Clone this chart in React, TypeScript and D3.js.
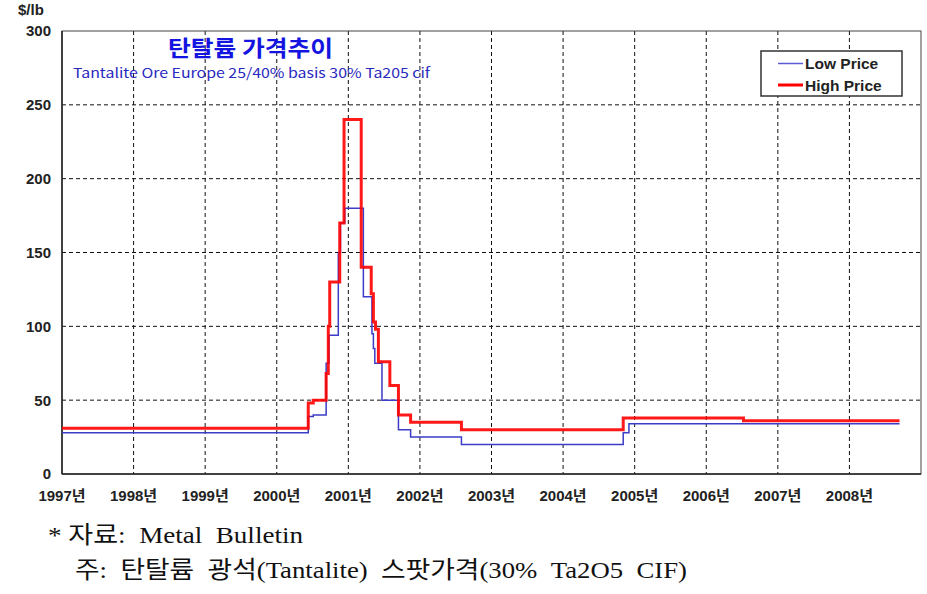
import React from "react";
import * as d3 from "d3";

// ---- data (decimal years, $/lb) ----
const highDates = [1997.0, 2000.44, 2000.51, 2000.69, 2000.72, 2000.74, 2000.88, 2000.94, 2001.18, 2001.32, 2001.35, 2001.38, 2001.42, 2001.58, 2001.7, 2001.87, 2002.58, 2004.84, 2006.52, 2008.7];
const highValues = [31, 48, 50, 68, 100, 130, 170, 240, 140, 122, 103, 98, 76, 60, 40, 35, 30, 38, 36, 36];

const lowDates = [1997.0, 2000.44, 2000.51, 2000.69, 2000.73, 2000.86, 2000.89, 2000.95, 2001.21, 2001.33, 2001.35, 2001.37, 2001.47, 2001.7, 2001.87, 2002.58, 2004.84, 2004.92, 2008.7];
const lowValues = [28, 39, 40, 75, 94, 150, 170, 180, 120, 95, 85, 75, 50, 30, 25, 20, 28, 34, 34];

const yearTicks = [1997, 1998, 1999, 2000, 2001, 2002, 2003, 2004, 2005, 2006, 2007, 2008];
const yTicks = [0, 50, 100, 150, 200, 250, 300];

const seriesNames = ["Low Price", "High Price"];
const title = "탄탈륨 가격추이";
const subtitle = "Tantalite Ore Europe 25/40% basis 30% Ta205 cif";
const yUnit = "$/lb";
const note1 = "* 자료:  Metal  Bulletin";
const note2 = "주:  탄탈륨  광석(Tantalite)  스팟가격(30%  Ta2O5  CIF)";

const W = 927;
const H = 594;
const M = { left: 62, right: 921, top: 31, bottom: 474 };

const SANS = "'Liberation Sans', Arial, 'Noto Sans CJK KR', sans-serif";
const KR = "'Noto Sans CJK KR', 'Liberation Sans', sans-serif";
const SERIF = "'Liberation Serif', 'DejaVu Serif', 'Noto Sans CJK KR', serif";

export default function App() {
  const x = d3.scaleLinear().domain([1997, 2009]).range([M.left, M.right]);
  const y = d3.scaleLinear().domain([0, 300]).range([M.bottom, M.top]);

  const line = d3
    .line<[number, number]>()
    .x((d) => x(d[0]))
    .y((d) => y(d[1]))
    .curve(d3.curveStepAfter);

  const high = highDates.map((d, i) => [d, highValues[i]] as [number, number]);
  const low = lowDates.map((d, i) => [d, lowValues[i]] as [number, number]);

  const gridColor = "#111";
  const blue = "#3c3cc8";
  const red = "#ff0000";

  return (
    <svg
      width={W}
      height={H}
      style={{ position: "absolute", left: 0, top: 0, background: "#fff" }}
    >
      <rect x={0} y={0} width={W} height={H} fill="#fff" />
      {yTicks
        .filter((t) => t > 0 && t < 300)
        .map((t) => (
          <line
            key={"h" + t}
            x1={M.left}
            x2={M.right}
            y1={y(t)}
            y2={y(t)}
            stroke={gridColor}
            strokeWidth={1}
            strokeDasharray="4,3"
          />
        ))}
      {yearTicks
        .filter((t) => t > 1997)
        .map((t) => (
          <line
            key={"v" + t}
            x1={x(t)}
            x2={x(t)}
            y1={M.top}
            y2={M.bottom}
            stroke={gridColor}
            strokeWidth={1}
            strokeDasharray="4,3"
          />
        ))}
      <rect
        x={M.left}
        y={M.top}
        width={M.right - M.left}
        height={M.bottom - M.top}
        fill="none"
        stroke="#444"
        strokeWidth={1}
      />
      <line x1={M.left} x2={M.left} y1={M.top} y2={M.bottom} stroke="#222" strokeWidth={1.5} />
      <line x1={M.left} x2={M.right} y1={M.bottom} y2={M.bottom} stroke="#222" strokeWidth={1.5} />

      {yTicks.map((t) => (
        <text
          key={"yl" + t}
          x={51}
          y={y(t)}
          dy="0.36em"
          textAnchor="end"
          fontFamily={SANS}
          fontWeight="bold"
          fontSize={15}
          fill="#222"
        >
          {t}
        </text>
      ))}
      <text x={18} y={15} fontFamily={SANS} fontWeight="bold" fontSize={15} fill="#222">
        {yUnit}
      </text>

      {yearTicks.map((t) => (
        <text
          key={"xl" + t}
          x={x(t)}
          y={501}
          textAnchor="middle"
          fontFamily={SANS}
          fontWeight="bold"
          fontSize={15}
          fill="#222"
        >
          {t + "년"}
        </text>
      ))}

      <path d={line(low) || ""} fill="none" stroke={blue} strokeWidth={1.5} />
      <path d={line(high) || ""} fill="none" stroke={red} strokeWidth={3} strokeOpacity={0.9} />

      <text
        x={168}
        y={56}
        fontFamily={KR}
        fontWeight="bold"
        fontSize={22}
        fill="#1414e0"
        textLength={165}
        lengthAdjust="spacingAndGlyphs"
      >
        {title}
      </text>
      <text
        x={73}
        y={77.5}
        fontFamily={KR}
        fontSize={13.5}
        fill="#2a2ac0"
        textLength={357}
        lengthAdjust="spacingAndGlyphs"
      >
        {subtitle}
      </text>

      <rect x={761} y={51} width={141} height={45} fill="#fff" stroke="#333" strokeWidth={1.5} />
      <line x1={778} x2={803} y1={63.5} y2={63.5} stroke={"#5a5ad8"} strokeWidth={1.5} />
      <line x1={778} x2={803} y1={85} y2={85} stroke={red} strokeWidth={3} />
      <text x={805} y={69} fontFamily={SANS} fontWeight="bold" fontSize={15.5} fill="#222">
        {seriesNames[0]}
      </text>
      <text x={805} y={90.5} fontFamily={SANS} fontWeight="bold" fontSize={15.5} fill="#222">
        {seriesNames[1]}
      </text>

      <text
        x={48}
        y={543}
        fontFamily={SERIF}
        fontSize={23.5}
        fill="#111"
        style={{ whiteSpace: "pre" }}
        textLength={255}
        lengthAdjust="spacingAndGlyphs"
      >
        {note1}
      </text>
      <text
        x={75}
        y={578}
        fontFamily={SERIF}
        fontSize={23.5}
        fill="#111"
        style={{ whiteSpace: "pre" }}
        textLength={612}
        lengthAdjust="spacingAndGlyphs"
      >
        {note2}
      </text>
    </svg>
  );
}
